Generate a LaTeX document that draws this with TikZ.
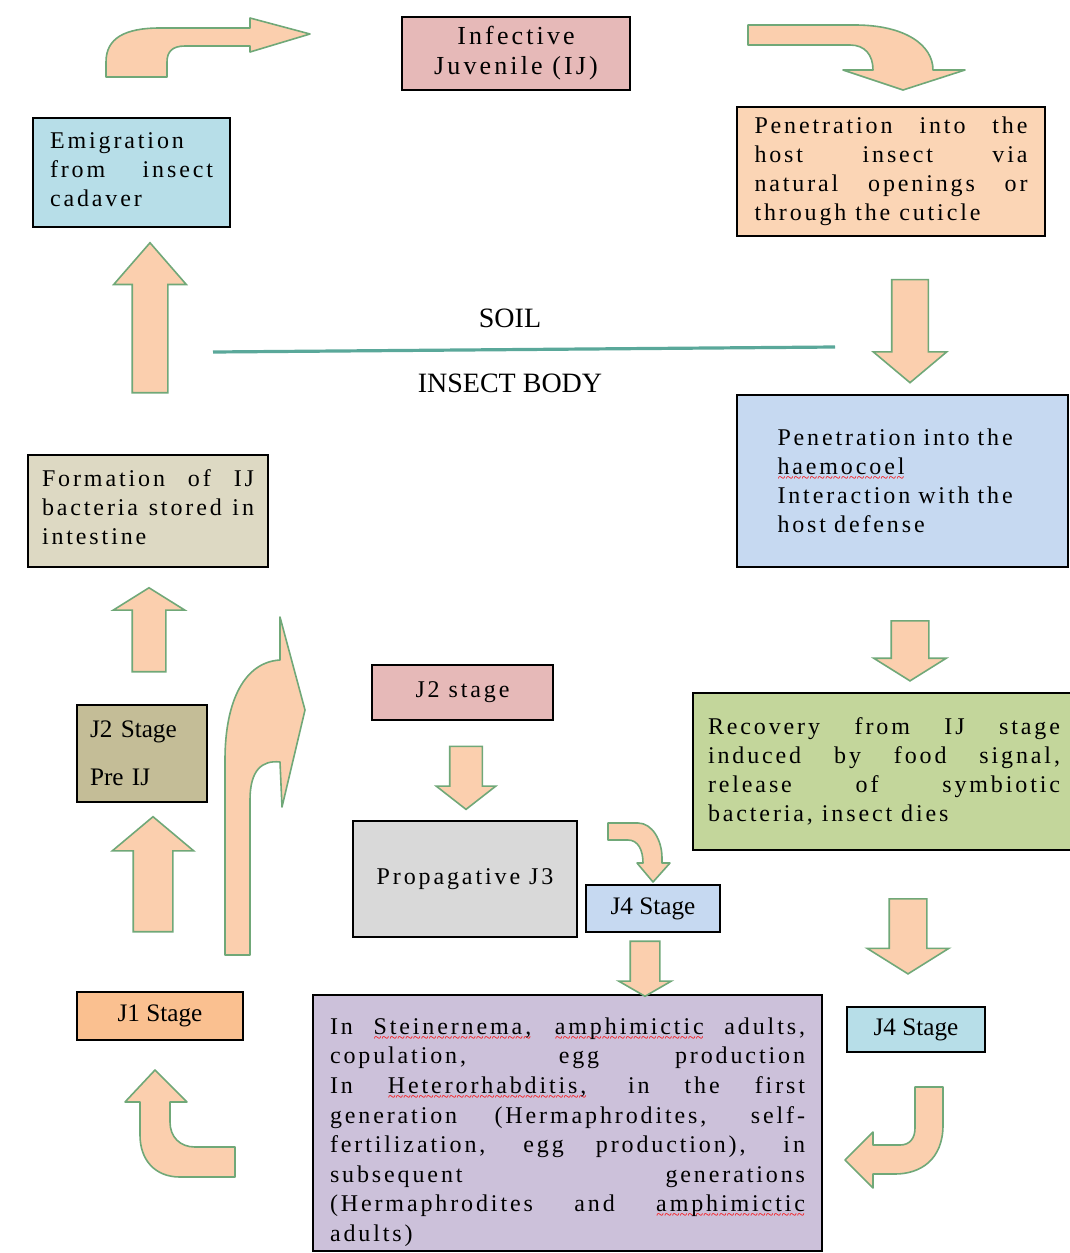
\documentclass[tikz,border=0pt]{standalone}
\usepackage{fontspec}
\setmainfont{Liberation Serif}
\newfontfamily\widefont{Liberation Serif}[LetterSpace=12]
\usepackage{tikz}
\usetikzlibrary{positioning}
\usetikzlibrary{shapes.arrows}
\usepackage{xcolor}

\definecolor{ijpink}{HTML}{E6B9B8}
\definecolor{emigblue}{HTML}{B7DEE8}
\definecolor{penpeach}{HTML}{FBD5B5}
\definecolor{haemblue}{HTML}{C6D9F1}
\definecolor{recovgreen}{HTML}{C3D69B}
\definecolor{formtan}{HTML}{DDD9C3}
\definecolor{pretaupe}{HTML}{C4BD97}
\definecolor{propgray}{HTML}{D9D9D9}
\definecolor{jorange}{HTML}{FAC090}
\definecolor{reprolilac}{HTML}{CCC1DA}
\definecolor{arrowfill}{HTML}{FBCFAE}
\definecolor{arrowline}{HTML}{70A878}
\definecolor{soilline}{HTML}{5AA89A}

\newcommand\spellerr[1]{\leavevmode\setbox0\hbox{#1}\rlap{\raisebox{-4pt}{\color{red}\normalfont\fontsize{7}{7}\selectfont\xleaders\hbox{\char`\~}\hskip\wd0}}#1}

\begin{document}
\begin{tikzpicture}[x=0.5pt,y=-0.5pt,
	stagebox/.style={draw=black, line width=1.1pt, rectangle, inner sep=0pt, font=\widefont\fontsize{12}{14.5}\selectfont},
	tag/.style={font=\fontsize{12.6}{15}\selectfont},
	blockarrow/.style={single arrow, draw=arrowline, fill=arrowfill, line width=0.8pt, inner xsep=0pt, single arrow head indent=0pt},
	bentarrow/.style={draw=arrowline, fill=arrowfill, line width=0.8pt, line join=round}]
	\useasboundingbox (0,0) rectangle (1070,1253);

	\node(ij) [stagebox, fill=ijpink, minimum width=114pt, minimum height=36.5pt, align=center, font=\widefont\fontsize{13}{15}\selectfont] at (516,53.5) {Infective\\Juvenile (IJ)};
	\node(emig) [stagebox, fill=emigblue, minimum width=98.5pt, minimum height=54.5pt, text width=81.5pt, align=justify] at (131.5,172.5) {Emigration\\ from insect\linebreak cadaver\rule[-3pt]{0pt}{0pt}};
	\node(pen) [stagebox, fill=penpeach, minimum width=154pt, minimum height=64.5pt, text width=136.5pt, align=justify] at (891,171.5) {Penetration into the\linebreak host insect via\linebreak natural openings or\linebreak through the cuticle};
	\node(haem) [stagebox, fill=haemblue, minimum width=165.5pt, minimum height=86pt, text width=125pt, align=left] at (902.5,481) {Penetration into the\\ \spellerr{haemocoel}\\ Interaction with the\\ host defense};
	\node(recov) [stagebox, fill=recovgreen, minimum width=191pt, minimum height=78.5pt, text width=176pt, align=justify] at (884,771.5) {Recovery from IJ stage\linebreak induced by food signal,\linebreak release of symbiotic\linebreak bacteria, insect dies};
	\node(form) [stagebox, fill=formtan, minimum width=120pt, minimum height=56pt, text width=106pt, align=justify] at (148,511) {Formation of IJ\linebreak bacteria stored in\linebreak intestine\rule[-4pt]{0pt}{0pt}};
	\node(j2pre) [stagebox, fill=pretaupe, minimum width=65pt, minimum height=48.5pt, text width=52pt, align=left, tag] at (142,753.5) {J2 Stage\\[9pt]Pre IJ};
	\node(j2mid) [stagebox, fill=ijpink, minimum width=90.5pt, minimum height=27.5pt] at (462.5,692.5) {J2 stage};
	\node(prop) [stagebox, fill=propgray, minimum width=112pt, minimum height=58pt] at (465,879) {Propagative J3};
	\node(j4mid) [stagebox, fill=haemblue, minimum width=67pt, minimum height=23.5pt, tag] at (653,908.5) {J4 Stage};
	\node(j4right) [stagebox, fill=emigblue, minimum width=69pt, minimum height=22.5pt, tag] at (916,1029.5) {J4 Stage};
	\node(j1) [stagebox, fill=jorange, minimum width=83pt, minimum height=24pt, tag] at (160,1016) {J1 Stage};
	\node(repro) [stagebox, fill=reprolilac, minimum width=254.5pt, minimum height=128pt, text width=237.5pt, align=justify, font=\widefont\fontsize{12}{14.8}\selectfont] at (567.5,1123) {\rule{0pt}{17.5pt}In \spellerr{Steinernema,} \spellerr{amphimictic} adults,\linebreak copulation, egg production\linebreak In \spellerr{Heterorhabditis,} in the first\linebreak generation (Hermaphrodites, self-\linebreak fertilization, egg production), in\linebreak subsequent generations\linebreak (Hermaphrodites and \spellerr{amphimictic}\linebreak adults)};

	\coordinate(soilL) at (213,352);
	\coordinate(soilR) at (835,347);
	\draw [soilline, line width=1.6pt] (soilL) -- (soilR);
	\node(soil) [font=\fontsize{14}{16}\selectfont] at (510,318) {SOIL};
	\node(body) [font=\fontsize{14}{16}\selectfont] at (510,383) {INSECT BODY};

	\node(up1) [blockarrow, rotate=90, minimum height=75pt, inner ysep=8.5pt, single arrow head extend=9.25pt, single arrow tip angle=82] at (150,328) {};
	\node(down1) [blockarrow, rotate=-90, minimum height=51.5pt, inner ysep=8.75pt, single arrow head extend=9.25pt, single arrow tip angle=100] at (910,323.5) {};
	\node(down2) [blockarrow, rotate=-90, minimum height=30pt, inner ysep=9pt, single arrow head extend=8.75pt, single arrow tip angle=116] at (910,645) {};
	\node(down3) [blockarrow, rotate=-90, minimum height=37.5pt, inner ysep=9pt, single arrow head extend=11pt, single arrow tip angle=116] at (908,930.5) {};
	\node(upform) [blockarrow, rotate=90, minimum height=42pt, inner ysep=8pt, single arrow head extend=9.5pt, single arrow tip angle=116] at (149,635) {};
	\node(upj1) [blockarrow, rotate=90, minimum height=57.5pt, inner ysep=9.5pt, single arrow head extend=10.5pt, single arrow tip angle=100] at (153,882.5) {};
	\node(downj2) [blockarrow, rotate=-90, minimum height=31.5pt, inner ysep=7.75pt, single arrow head extend=6.75pt, single arrow tip angle=104] at (466,771.5) {};
	\node(downj4) [blockarrow, rotate=-90, minimum height=27.5pt, inner ysep=7pt, single arrow head extend=5.75pt, single arrow tip angle=120] at (645,964.5) {};

	\draw [bentarrow] (106,77) -- (106,62) .. controls (106,38) and (125,28) .. (160,28) -- (250,28) -- (250,18) -- (310,34) -- (250,52) -- (250,46) -- (185,46) .. controls (172,46) and (167,52) .. (167,62) -- (167,77) -- cycle;
	\draw [bentarrow] (748,25) -- (855,25) .. controls (905,25) and (933,45) .. (933,70) -- (965,70) -- (903,90) -- (843,70) -- (873,70) .. controls (873,55) and (865,45) .. (850,45) -- (748,45) -- cycle;
	\draw [bentarrow] (943,1087) -- (943,1125) .. controls (943,1160) and (920,1174) .. (895,1174) -- (873,1174) -- (873,1188) -- (845,1160) -- (873,1132) -- (873,1145) -- (900,1145) .. controls (910,1145) and (915,1138) .. (915,1128) -- (915,1087) -- cycle;
	\draw [bentarrow] (235,1147) -- (195,1147) .. controls (180,1147) and (170,1137) .. (170,1122) -- (170,1102) -- (187,1102) -- (155,1070) -- (125,1102) -- (140,1102) -- (140,1135) .. controls (140,1160) and (155,1177) .. (180,1177) -- (235,1177) -- cycle;
	\draw [bentarrow] (608,823) -- (638,823) .. controls (652,823) and (662,840) .. (662,858) -- (662,863) -- (670,863) -- (653,882) -- (637,863) -- (643,863) .. controls (643,850) and (638,840) .. (628,840) -- (608,840) -- cycle;
	\draw [bentarrow] (225,955) -- (225,760) .. controls (225,700) and (245,662) .. (280,660) -- (280,617) -- (305,710) -- (282,807) -- (280,762) .. controls (262,760) and (250,770) .. (250,800) -- (250,955) -- cycle;
\end{tikzpicture}
\end{document}
